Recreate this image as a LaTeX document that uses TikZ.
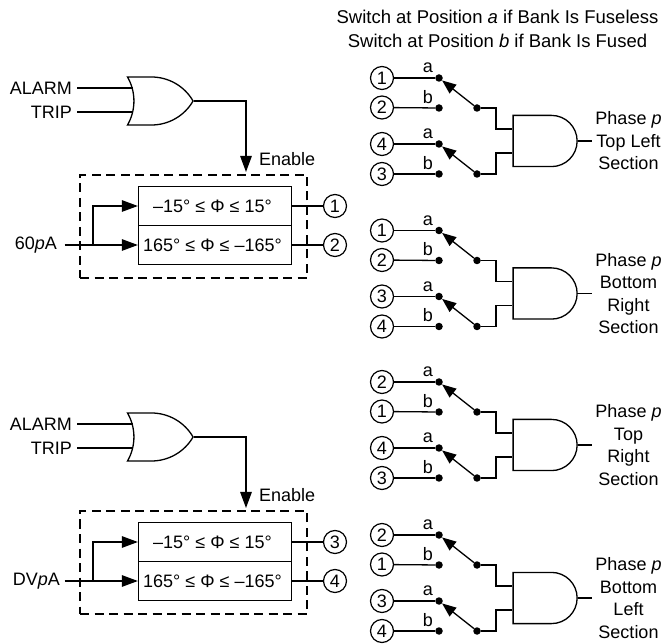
\documentclass[tikz,border=0pt]{standalone}
\usepackage{fontspec}
\setmainfont{Liberation Sans}
\usetikzlibrary{shapes.gates.logic.US}
\usetikzlibrary{arrows.meta}
\newcommand{\Gap}{\hspace{5pt}}
\tikzstyle{Wire}=[draw=black,line width=1.3pt,line join=miter]
\tikzstyle{Arrow}=[Wire,-{Triangle[length=16pt,width=11.5pt]}]
\tikzstyle{ArrowS}=[Wire,-{Triangle[length=14pt,width=11pt]}]
\tikzstyle{Term}=[circle,draw=black,line width=1.2pt,minimum size=23pt,inner sep=0pt,font=\fontsize{18}{18}\selectfont]
\tikzstyle{Dot}=[circle,fill=black,inner sep=0pt,minimum size=7.5pt]
\tikzstyle{Label}=[font=\fontsize{18}{22.5}\selectfont,inner sep=0pt,align=center]
\tikzstyle{Head}=[font=\fontsize{18.5}{23.5}\selectfont,inner sep=0pt,align=center]
\tikzstyle{Range}=[rectangle,draw=black,line width=1.3pt,minimum width=153pt,minimum height=38.5pt,inner sep=0pt,font=\fontsize{18}{18}\selectfont]
\tikzstyle{Frame}=[rectangle,draw=black,line width=1.3pt,dash pattern=on 9pt off 5.5pt,minimum width=227pt,minimum height=103pt,inner sep=0pt]
\tikzstyle{Gate}=[draw=black,line width=1.3pt,logic gate inputs=nn,inner sep=0pt]
\begin{document}
\begin{tikzpicture}[x=1pt,y=-1pt]
    \useasboundingbox (0,0) rectangle (662,644);
    \node[Head](head)at(497.5,29){Switch at Position \textit{a} if Bank Is Fuseless\\Switch at Position \textit{b} if Bank Is Fused};
    % left blocks
    \foreach \B/\Dy/\InA/\InB/\InName/\InX in {U/0/1/2/60\textit{p}A/57,L/336/3/4/DV\textit{p}A/60}{
        \begin{scope}[yshift=-\Dy pt]
            \node[Label,anchor=east](alarm\B)at(72,88){ALARM};
            \node[Label,anchor=east](trip\B)at(72,112){TRIP};
            \node[or gate US,Gate,minimum width=62pt,minimum height=48pt](or\B)at(155.5,101){};
            \draw[Wire](alarm\B.east)++(5,0)--(or\B.input 1|-alarm\B.east);
            \draw[Wire](trip\B.east)++(5,0)--(or\B.input 2|-trip\B.east);
            \node[Label,anchor=west](enable\B)at(259,159){Enable};
            \node[Frame](frame\B)at(193.5,226.5){};
            \node[Range](hi\B)at(215,206){--15°\Gap≤\Gap Φ\Gap≤\Gap 15°\hspace*{5pt}};
            \node[Range](lo\B)at(215,245){165°\Gap≤\Gap Φ\Gap≤\Gap --165°\hspace*{5pt}};
            \coordinate(drop\B)at(246,172);
            \draw[Arrow](or\B.output)-|(drop\B);
            \node[Label,anchor=east](in\B)at(\InX,245){\InName};
            \coordinate(start\B)at(64.5,245);
            \coordinate(split\B)at(93,245);
            \draw[Arrow](start\B)--(lo\B.west);
            \draw[Arrow](split\B)|-(hi\B.west);
            \node[Term](outa\B)at(335,206){\InA};
            \node[Term](outb\B)at(335,245){\InB};
            \draw[Wire](hi\B.east|-outa\B)--(outa\B);
            \draw[Wire](lo\B.east|-outb\B)--(outb\B);
        \end{scope}
    }
    % switch blocks
    \foreach \S/\Dy/\Ta/\Tb/\Tc/\Td/\Out in {
        A/0/1/2/4/3/{Phase \textit{p}\\Top Left\\Section},
        B/152.5/1/2/3/4/{Phase \textit{p}\\Bottom\\Right\\Section},
        C/304/2/1/4/3/{Phase \textit{p}\\Top\\Right\\Section},
        D/457/2/1/3/4/{Phase \textit{p}\\Bottom\\Left\\Section}}{
        \begin{scope}[yshift=-\Dy pt]
            \node[Term](t1\S)at(382,78){\Ta};
            \node[Term](t2\S)at(382,107.5){\Tb};
            \node[Term](t3\S)at(382,144){\Tc};
            \node[Term](t4\S)at(382,174){\Td};
            \node[Dot](a1\S)at(439,78){};
            \node[Dot](b1\S)at(439,108){};
            \node[Dot](a2\S)at(439,144){};
            \node[Dot](b2\S)at(439,174){};
            \node[Dot](p1\S)at(477,108){};
            \node[Dot](p2\S)at(477,174){};
            \node[Label](la1\S)at(428,68){a};
            \node[Label](lb1\S)at(428,97){b};
            \node[Label](la2\S)at(428,134){a};
            \node[Label](lb2\S)at(428,163){b};
            \draw[Wire](t1\S)--(a1\S);
            \draw[Wire](t2\S)--(b1\S);
            \draw[Wire](t3\S)--(a2\S);
            \draw[Wire](t4\S)--(b2\S);
            \draw[ArrowS](p1\S)--(a1\S);
            \draw[ArrowS](p2\S)--(a2\S);
            \node[and gate US,Gate,minimum width=64pt,minimum height=46pt](and\S)at(543,141){};
            \coordinate(j1\S)at(496,129);
            \coordinate(j2\S)at(496,153);
            \draw[Wire](p1\S)-|(j1\S)--(and\S.west|-j1\S);
            \draw[Wire](p2\S)-|(j2\S)--(and\S.west|-j2\S);
            \coordinate(end\S)at(592,141);
            \draw[Wire](and\S.output)--(end\S);
            \node[Label](phase\S)at(628.5,141){\Out};
        \end{scope}
    }
\end{tikzpicture}
\end{document}
